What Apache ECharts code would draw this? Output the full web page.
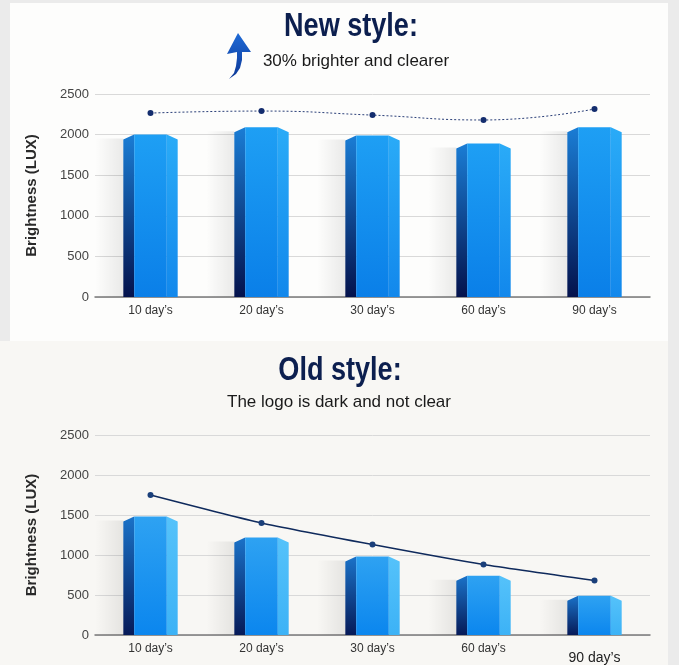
<!DOCTYPE html>
<html>
<head>
<meta charset="utf-8">
<script src="https://cdn.jsdelivr.net/npm/echarts@6/dist/echarts.min.js"></script>
<style>
  html, body { margin: 0; padding: 0; background: #ebebeb; }
  #chart { width: 679px; height: 665px; }
</style>
</head>
<body>
<div id="chart"></div>
<script>
// categories + values
var days = ["10 day\u2019s", "20 day\u2019s", "30 day\u2019s", "60 day\u2019s", "90 day\u2019s"];
var yTicks = [0, 500, 1000, 1500, 2000, 2500];
var newBars = [2000, 2090, 1990, 1890, 2090];
var newLine = [2265, 2290, 2240, 2180, 2315];
var oldBars = [1480, 1220, 980, 740, 490];
var oldLine = [1750, 1400, 1130, 880, 680];

var sans = "'Liberation Sans', Arial, sans-serif";

function grad(c1, c2) {
  return new echarts.graphic.LinearGradient(0, 0, 0, 1, [
    { offset: 0, color: c1 },
    { offset: 1, color: c2 }
  ]);
}

// faceted "3d" bar: left face, front face, right face with a bevelled top
function makeBar(colors) {
  return function (params, api) {
    var top = api.coord([api.value(0), api.value(1)]);
    var base = api.coord([api.value(0), 0]);
    var w = api.size([1, 0])[0] * 0.49;
    var l = top[0] - w / 2, r = top[0] + w / 2;
    var t = top[1], b = base[1];
    var side = w * 0.2, bev = 5;
    return {
      type: "group",
      children: [
        {
          type: "rect",
          shape: { x: l - 28, y: t + 4, width: 28, height: b - t - 4 },
          style: {
            fill: new echarts.graphic.LinearGradient(0, 0, 1, 0, [
              { offset: 0, color: "rgba(0,0,0,0)" },
              { offset: 1, color: "rgba(0,0,0,0.08)" }
            ])
          }
        },
        {
          type: "polygon",
          shape: { points: [[l, t + bev], [l + side, t], [l + side, b], [l, b]] },
          style: { fill: grad(colors[0], colors[1]) }
        },
        {
          type: "polygon",
          shape: { points: [[l + side, t], [r - side, t], [r - side, b], [l + side, b]] },
          style: { fill: grad(colors[2], colors[3]) }
        },
        {
          type: "polygon",
          shape: { points: [[r - side, t], [r, t + bev], [r, b], [r - side, b]] },
          style: { fill: grad(colors[4], colors[5]) }
        }
      ]
    };
  };
}

function xAxisFor(gridIndex, bigLast) {
  return {
    type: "category",
    gridIndex: gridIndex,
    data: days,
    axisTick: { show: false },
    axisLine: { lineStyle: { color: "#7a7a7a", width: 1.5 } },
    axisLabel: {
      color: "#333",
      fontSize: 12,
      fontFamily: sans,
      margin: 8,
      formatter: function (v, i) {
        return bigLast && i === days.length - 1 ? "{big|" + v + "}" : v;
      },
      rich: {
        big: { fontSize: 14, fontFamily: sans, color: "#222", padding: [8, 0, 0, 0] }
      }
    }
  };
}

function yAxisFor(gridIndex) {
  return {
    type: "value",
    gridIndex: gridIndex,
    min: yTicks[0],
    max: yTicks[yTicks.length - 1],
    interval: 500,
    name: "Brightness (LUX)",
    nameLocation: "middle",
    nameGap: 56,
    nameTextStyle: { color: "#2a2a2a", fontSize: 15, fontWeight: "bold", fontFamily: sans },
    axisLine: { show: false },
    axisTick: { show: false },
    axisLabel: {
      color: "#444", fontSize: 13, fontFamily: sans, margin: 6,
      formatter: function (v) { return String(v); }
    },
    splitLine: { lineStyle: { color: "#d9d9d9", width: 1 } }
  };
}

function heading(text, x, y) {
  return {
    type: "text",
    x: x, y: y,
    scaleX: 0.82,
    style: {
      text: text,
      fill: "#0c1f4f",
      font: "bold 33px " + sans,
      align: "center",
      verticalAlign: "middle"
    }
  };
}

function subline(text, x, y) {
  return {
    type: "text",
    x: x, y: y,
    style: {
      text: text,
      fill: "#1a1a1a",
      font: "17px " + sans,
      align: "center",
      verticalAlign: "middle"
    }
  };
}

var myChart = echarts.init(document.getElementById("chart"));

myChart.setOption({
  animation: false,
  backgroundColor: "#ebebeb",
  graphic: [
    { type: "rect", z: -10, shape: { x: 10, y: 3, width: 658, height: 338 }, style: { fill: "#fdfdfc" } },
    { type: "rect", z: -10, shape: { x: 0, y: 341, width: 668, height: 324 }, style: { fill: "#f8f7f4" } },
    heading("New style:", 351, 27),
    subline("30% brighter and clearer", 356, 61),
    heading("Old style:", 340, 371),
    subline("The logo is dark and not clear", 339, 402),
    {
      // blue up arrow beside the subtitle
      type: "polygon",
      z: 10,
      shape: {
        points: [[229, 79], [234, 73], [236, 66], [237, 58], [237, 52], [227, 54], [238, 33],
                 [251, 52], [242, 52], [242, 60], [240, 68], [236, 74]]
      },
      style: { fill: grad("#1f6ad6", "#0c3796") }
    }
  ],
  grid: [
    { left: 95, right: 29, top: 94, height: 203 },
    { left: 95, right: 29, top: 435, height: 203 }
  ],
  xAxis: [xAxisFor(0, false), xAxisFor(1, true)],
  yAxis: [yAxisFor(0), yAxisFor(1)],
  series: [
    {
      type: "custom",
      xAxisIndex: 0,
      yAxisIndex: 0,
      renderItem: makeBar(["#1a7dd5", "#04124c", "#1e9ff4", "#0a7fe8", "#2aabf7", "#1288ec"]),
      encode: { x: 0, y: 1 },
      data: newBars.map(function (v, i) { return [i, v]; })
    },
    {
      type: "line",
      xAxisIndex: 0,
      yAxisIndex: 0,
      data: newLine,
      smooth: true,
      symbol: "circle",
      symbolSize: 6,
      itemStyle: { color: "#142d6e" },
      lineStyle: { color: "#2a3f78", width: 1, type: [2, 2] },
      z: 5
    },
    {
      type: "custom",
      xAxisIndex: 1,
      yAxisIndex: 1,
      renderItem: makeBar(["#1a72c8", "#061a58", "#2ea2f2", "#0b86ee", "#55c2fa", "#3cb2f6"]),
      encode: { x: 0, y: 1 },
      data: oldBars.map(function (v, i) { return [i, v]; })
    },
    {
      type: "line",
      xAxisIndex: 1,
      yAxisIndex: 1,
      data: oldLine,
      smooth: 0.2,
      symbol: "circle",
      symbolSize: 6,
      itemStyle: { color: "#1a3f7a" },
      lineStyle: { color: "#0f2a5c", width: 1.5 },
      z: 5
    }
  ]
});

window.addEventListener("resize", function () {
  myChart.resize();
});
</script>
</body>
</html>
